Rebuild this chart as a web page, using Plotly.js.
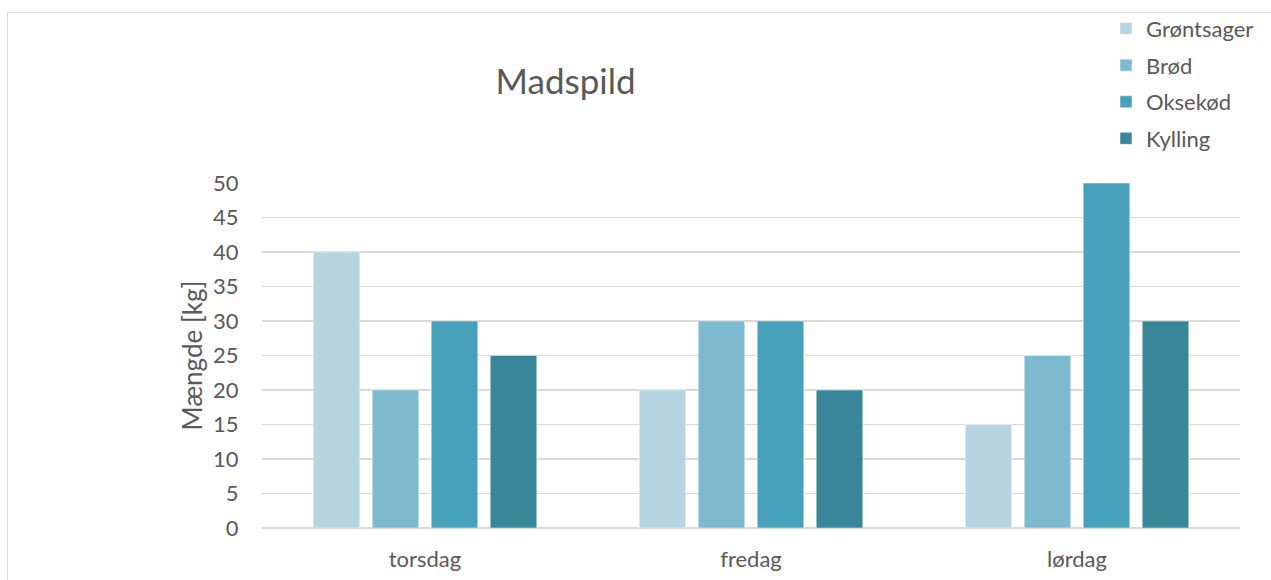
<!DOCTYPE html>
<html>
<head>
<meta charset="utf-8">
<script src="https://cdn.plot.ly/plotly-3.0.1.min.js"></script>
<style>
html,body{margin:0;padding:0;background:#fff;}
#frame{position:absolute;left:7px;top:12px;width:1300px;height:600px;border:1.5px solid #d9d9d9;box-sizing:border-box;}
#chart{position:absolute;left:0;top:0;width:1271px;height:580px;}
</style>
</head>
<body>
<div id="frame"></div>
<div id="chart"></div>
<script>
const categories = ["torsdag", "fredag", "lørdag"];
const seriesNames = ["Grøntsager", "Brød", "Oksekød", "Kylling"];
const groentsager = [40, 20, 15];
const broed = [20, 30, 25];
const oksekoed = [30, 30, 50];
const kylling = [25, 20, 30];
const colors = ["#b7d5e0", "#7db9cf", "#48a1ba", "#388698"];
const yTicks = [0, 5, 10, 15, 20, 25, 30, 35, 40, 45, 50];

const values = [groentsager, broed, oksekoed, kylling];
const font = "Lato, 'Open Sans', sans-serif";
const traces = values.map((v, i) => ({
  type: "bar",
  name: seriesNames[i],
  x: categories,
  y: v,
  legendgroup: "g" + i,
  marker: {color: colors[i], line: {color: "rgba(255,255,255,0.5)", width: 1}},
  hoverinfo: "x+y+name"
}));

const layout = {
  width: 1271, height: 580,
  paper_bgcolor: "rgba(0,0,0,0)",
  plot_bgcolor: "rgba(0,0,0,0)",
  margin: {l: 262, r: 31, t: 183, b: 52, autoexpand: false},
  font: {family: font, color: "#595959", size: 22},
  title: {text: "Madspild", font: {size: 35, color: "#595959", family: font}, xref: "container", yref: "container", x: 0.445, xanchor: "center", y: 0.859, yanchor: "middle"},
  barmode: "group",
  bargap: 0.276,
  bargroupgap: 0.21,
  showlegend: true,
  legend: {x: 0.863, xanchor: "left", y: 1.508, yanchor: "top", font: {size: 22, color: "#595959"}, tracegroupgap: 5, itemwidth: 30, bgcolor: "rgba(0,0,0,0)"},
  xaxis: {
    type: "category", showgrid: false, zeroline: false, showline: false,
    ticks: "outside", ticklen: 12, tickcolor: "rgba(0,0,0,0)",
    tickfont: {size: 22, color: "#595959"}
  },
  yaxis: {
    range: [0, 50], tickvals: yTicks, showgrid: true, gridcolor: "#d9d9d9", gridwidth: 1.5,
    zeroline: true, zerolinecolor: "#d9d9d9", zerolinewidth: 1.5, showline: false,
    ticks: "outside", ticklen: 18, tickcolor: "rgba(0,0,0,0)",
    tickfont: {size: 22, color: "#595959"},
    title: {text: "Mængde [kg]", font: {size: 26, color: "#595959"}, standoff: 2}
  }
};

Plotly.newPlot("chart", traces, layout, {displayModeBar: false, staticPlot: true});
</script>
</body>
</html>
